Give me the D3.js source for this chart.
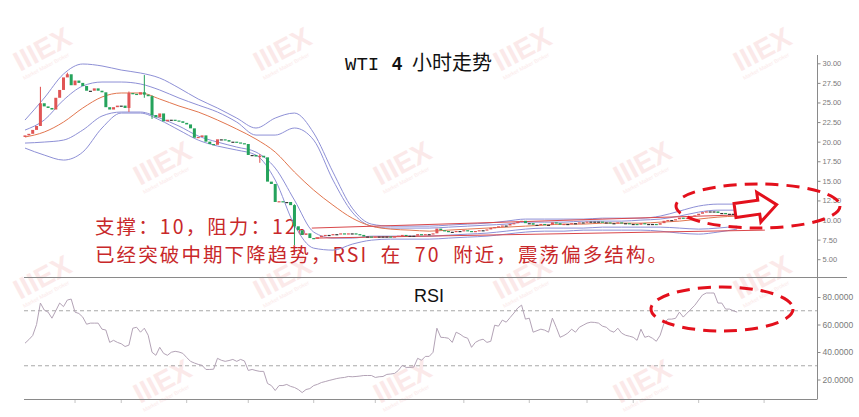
<!DOCTYPE html>
<html><head><meta charset="utf-8">
<script src="https://cdn.jsdelivr.net/npm/d3@7"></script>
<style>
html,body{margin:0;padding:0;background:#fff;}
svg{display:block;}
</style></head>
<body><svg id="c" width="859" height="417"></svg>
<script>
// ---------- data ----------
const titleParts = ["WTI", "4", "小时走势"];
const noteLine1 = "支撑：10，阻力：12。";
const noteLine2 = "已经突破中期下降趋势，RSI 在 70 附近，震荡偏多结构。";
const rsiLabel = "RSI";
const watermarkText = "IIIEX";
const watermarkSub = "Market Maker Broker";

const priceTicks = [5, 7.5, 10, 12.5, 15, 17.5, 20, 22.5, 25, 27.5, 30];
const rsiTicks = [20, 40, 60, 80];
const rsiLevels = [30, 70];
const timeTicks = [13, 25, 42, 58, 75, 91, 114, 131, 146, 158, 175, 192];

const firstOpen = 20.6;
const closes = [
20.8,21.0,21.5,22.0,24.9,24.5,24.3,24.1,25.6,26.6,
28.2,28.6,27.2,27.8,27.5,27.1,26.5,26.5,26.8,26.5,
26.3,24.4,24.1,24.4,24.6,24.6,24.3,26.2,26.1,26.0,
26.3,26.0,25.8,23.4,23.1,23.6,22.6,22.8,22.8,22.7,
22.6,22.4,22.2,21.7,20.5,20.6,20.8,20.0,19.7,19.6,
20.3,20.3,20.2,20.0,20.0,19.9,19.8,19.7,18.3,18.3,
18.1,18.2,18.0,14.9,14.6,12.3,12.4,12.3,12.3,11.9,
9.2,8.7,8.1,8.3,7.7,7.6,7.8,8.0,8.1,8.1,
8.2,8.2,8.3,8.2,8.3,8.3,8.2,8.1,7.9,7.9,
7.8,7.9,7.9,7.9,7.9,7.8,7.9,8.0,8.1,8.0,
8.0,8.0,8.2,8.1,8.2,8.2,8.3,8.9,8.7,8.6,
8.5,8.5,8.6,8.6,8.7,8.6,8.5,8.6,8.7,8.7,
8.8,9.0,9.1,9.2,9.3,9.3,9.5,9.6,9.8,9.9,
9.6,9.6,9.4,9.4,9.5,9.4,9.4,9.7,9.6,9.4,
9.5,9.5,9.6,9.6,9.7,9.7,9.8,9.8,9.8,9.8,
9.7,9.7,9.6,9.6,9.7,9.6,9.6,9.5,9.5,9.4,
9.6,9.5,9.5,9.5,9.4,9.6,9.9,10.0,10.0,10.1,
10.3,10.2,10.3,10.5,10.6,10.8,11.0,11.1,11.1,11.1,
10.9,10.9,10.8,10.8,10.8,10.8];

const wickIdx  = [4, 11, 27, 31, 33, 61, 70];
const wickHigh = [27.0, 28.8, 26.4, 28.5, 25.9, 18.4, 12.0];
const wickLow  = [24.3, 28.3, 23.8, 25.6, 22.9, 17.3, 6.8];

const rsi = [
46.4,49,52,60,75.6,70.5,69,64.6,70,75.6,
73,77.8,78.5,69,68,65.4,60.2,61,61,61,
56.6,56,47,48.5,47,46,44,45,57.3,58,
54.4,57.3,52.2,39.8,37.6,43.4,39,37.6,39.8,40.5,
40,39,36,33.2,32,31,30.3,27.3,27.3,27.5,
35.4,34,33.2,33.8,34.6,33.2,34.6,33.5,26.6,27.3,
26.5,25.9,25.9,17.1,15.6,12,15.6,15.6,16.4,15,
14.2,12.7,10.5,12.7,13.4,15.6,16.5,17.8,18.5,19.3,
20,20.7,21.2,21.5,22.2,22,22.2,22.5,22.9,22.9,
22.9,21.5,22,22.2,23.7,24,24.4,26.6,30.3,28.8,
28.8,29,35.4,34,36.8,36.8,39.8,57.3,50.7,50.5,
50,47,54.4,53,51,50,43.4,47,48.5,49.3,
47,47.8,59.5,58.8,63.2,61.7,65,68.3,72,74.1,
63.9,64.6,54.4,55.5,56.6,55.9,54.4,64.6,58,50.7,
52,53.7,56.6,54.4,58,59.5,61,61.7,61.5,61,
58.8,58,55.5,54.4,57.3,53.7,52.2,51.5,50.7,48.5,
56.6,50.7,51.5,50,47.8,52.2,61,63.9,63.9,64.5,
69,65.4,68.3,71.2,74,77.8,81.5,82.9,82.9,82.9,
75.6,75.6,71.2,71.2,70,69];

const bandIdx = [0,5,10,15,20,25,30,35,40,45,50,55,60,65,70,75,80,85,90,95,100,105,110,115,120,125,130,135,140,145,150,155,160,165,170,175,180,185];
const bandMid = [20.59,21.23,22.50,24.29,25.70,26.21,26.21,25.44,24.55,23.78,22.76,21.61,20.33,18.67,16.12,13.82,11.90,10.24,9.22,8.84,8.71,8.58,8.71,8.84,8.97,9.09,9.22,9.35,9.48,9.48,9.60,9.60,9.60,9.73,9.86,10.12,10.37,10.50];
const bandUp2 = [22.76,25.57,28.63,29.91,29.66,29.14,28.76,28.12,26.85,25.44,24.29,23.01,21.74,23.01,23.65,21.10,16.12,11.52,9.48,9.22,9.22,9.22,9.35,9.48,9.60,9.86,10.12,10.12,10.12,10.12,10.24,10.24,10.24,10.50,11.14,11.78,12.03,12.03];
const bandUp1 = [21.48,22.76,25.31,27.10,27.61,27.61,27.36,26.59,25.57,24.67,23.78,22.50,20.84,20.84,21.74,20.20,15.10,11.01,9.22,8.97,8.97,8.97,9.09,9.22,9.35,9.48,9.73,9.73,9.73,9.86,9.86,9.86,9.99,10.12,10.50,11.01,11.26,11.26];
const bandLo1 = [19.82,19.95,20.20,21.48,23.27,23.78,23.78,23.01,21.99,20.72,19.95,19.31,18.67,16.63,12.54,8.46,7.69,7.69,7.94,7.94,7.94,7.94,8.07,8.20,8.33,8.58,8.84,8.97,8.97,8.97,9.09,9.09,9.09,9.09,8.97,8.84,8.97,9.22];
const bandLo2 = [19.18,18.29,17.65,18.67,21.74,23.65,23.65,22.76,21.48,20.20,19.44,18.93,18.29,15.10,9.35,6.41,6.16,6.92,7.43,7.56,7.56,7.56,7.69,7.82,7.94,8.20,8.46,8.58,8.58,8.71,8.71,8.71,8.71,8.58,8.33,8.20,8.46,8.84];

// trend lines: [startIndex, startPrice, endIndex, endPrice]
const trendUpper = [74.5, 8.97, 192, 10.75];
const trendLower = [75.3, 7.69, 192.2, 8.71];

// ---------- drawing ----------
const svg = d3.select("#c");
const W = 859, H = 417;
svg.append("rect").attr("width", W).attr("height", H).attr("fill", "#fff");

const x = d3.scaleLinear().domain([0, 206]).range([25, 818]);
const y = d3.scaleLinear().domain([5, 30]).range([259.2, 63.3]);
const yr = d3.scaleLinear().domain([20, 80]).range([379.5, 297]);

// faint watermarks, kept inside the canvas
const wm = svg.append("g");
const wmRows = [72, 186, 300, 404];
wmRows.forEach((wy, r) => {
  for (let c = 0; c < 4; c++) {
    const wx = 20 + c * 240 + (r % 2) * 120;
    if (wx > 770) continue;
    const g = wm.append("g").attr("transform", `translate(${wx},${wy}) rotate(-28)`);
    g.append("text").text(watermarkText).attr("font-family", "Liberation Sans, Arial, sans-serif")
      .attr("font-weight", "bold").attr("font-size", 28).attr("fill", "#fbe9e9");
    g.append("text").text(watermarkSub).attr("y", 9).attr("font-family", "Liberation Sans, Arial, sans-serif")
      .attr("font-size", 5.5).attr("fill", "#fbe9e9");
  }
});

// title
const t = svg.append("g").attr("fill", "#111");
t.append("text").attr("x", 345).attr("y", 70).text(titleParts[0])
  .attr("font-family", "Liberation Mono, DejaVu Sans Mono, monospace").attr("font-size", 19);
t.append("text").attr("x", 392).attr("y", 70).text(titleParts[1])
  .attr("font-family", "Liberation Sans, Arial, sans-serif").attr("font-weight", "bold").attr("font-size", 18);
t.append("text").attr("x", 412).attr("y", 70).text(titleParts[2])
  .attr("font-family", "Noto Sans CJK SC, sans-serif").attr("font-size", 20);

// annotation text: one text block with two lines (drawn under the chart lines)
const note = svg.append("text")
  .attr("font-family", "Noto Sans CJK SC, sans-serif").attr("font-size", 19.5).attr("fill", "#c8282a")
  .attr("letter-spacing", 2.1).attr("word-spacing", 6);
note.append("tspan").attr("x", 95).attr("y", 233.5).text(noteLine1);
note.append("tspan").attr("x", 95).attr("y", 262).text(noteLine2);

// panel frame lines
const axisColor = "#8a8a8a";
svg.append("line").attr("x1", 24).attr("x2", 847).attr("y1", 277.5).attr("y2", 277.5).attr("stroke", axisColor).attr("stroke-width", 1);
svg.append("line").attr("x1", 817.5).attr("x2", 817.5).attr("y1", 55).attr("y2", 399).attr("stroke", axisColor).attr("stroke-width", 1);
svg.append("line").attr("x1", 24).attr("x2", 817.5).attr("y1", 399.5).attr("y2", 399.5).attr("stroke", axisColor).attr("stroke-width", 1);

// price axis
const pa = svg.append("g").attr("transform", "translate(817.5,0)")
  .call(d3.axisRight(y).tickValues(priceTicks).tickFormat(d3.format(".2f")).tickSize(3).tickSizeOuter(0));
pa.select(".domain").remove();
pa.selectAll("line").attr("stroke", axisColor);
pa.selectAll("text").attr("font-family", "Liberation Sans, Arial, sans-serif").attr("font-size", 7.5).attr("fill", "#7a7a7a").attr("x", 5);

// rsi axis
const ra = svg.append("g").attr("transform", "translate(817.5,0)")
  .call(d3.axisRight(yr).tickValues(rsiTicks).tickFormat(d3.format(".4f")).tickSize(3).tickSizeOuter(0));
ra.select(".domain").remove();
ra.selectAll("line").attr("stroke", axisColor);
ra.selectAll("text").attr("font-family", "Liberation Sans, Arial, sans-serif").attr("font-size", 8.5).attr("fill", "#7a7a7a").attr("x", 5);

// time ticks
svg.append("g").selectAll("line").data(timeTicks).join("line")
  .attr("x1", d => x(d)).attr("x2", d => x(d)).attr("y1", 400).attr("y2", 403)
  .attr("stroke", "#c4c4c4");

// rsi levels
svg.append("g").selectAll("line").data(rsiLevels).join("line")
  .attr("x1", 24).attr("x2", 817).attr("y1", d => yr(d)).attr("y2", d => yr(d))
  .attr("stroke", "#a8a8a8").attr("stroke-dasharray", "4,3").attr("stroke-width", 1);

// rsi label
svg.append("text").attr("x", 414).attr("y", 302).text(rsiLabel)
  .attr("font-family", "Liberation Sans, Arial, sans-serif").attr("font-size", 18).attr("fill", "#111");

// rsi line
svg.append("path").datum(rsi)
  .attr("d", d3.line().x((d, i) => x(i)).y(d => yr(d)))
  .attr("fill", "none").attr("stroke", "#b3a3b6").attr("stroke-width", 1);

// bands
const bandLine = arr => d3.line().curve(d3.curveMonotoneX).x((d, k) => x(bandIdx[k])).y(d => y(d))(arr);
const blue = "#8e90d6";
[[bandUp2, blue], [bandUp1, blue], [bandLo1, blue], [bandLo2, blue], [bandMid, "#e2764f"]].forEach(([arr, col]) => {
  svg.append("path").attr("d", bandLine(arr)).attr("fill", "none").attr("stroke", col).attr("stroke-width", 1);
});

// trend lines
[trendUpper, trendLower].forEach(tl => {
  svg.append("line").attr("x1", x(tl[0])).attr("y1", y(tl[1])).attr("x2", x(tl[2])).attr("y2", y(tl[3]))
    .attr("stroke", "#d9474a").attr("stroke-width", 1);
});

// candles
const opens = closes.map((c, i) => i === 0 ? firstOpen : closes[i - 1]);
const cg = svg.append("g");
const wickG = cg.append("g");
wickIdx.forEach((wi, k) => {
  const o = opens[wi], c = closes[wi];
  const col = c > o ? "#df4b4b" : "#23a05a";
  wickG.append("line").attr("x1", x(wi)).attr("x2", x(wi)).attr("y1", y(wickHigh[k])).attr("y2", y(wickLow[k]))
    .attr("stroke", col).attr("stroke-width", 1);
});
cg.append("g").selectAll("rect").data(closes).join("rect")
  .attr("x", (d, i) => x(i) - 1.5)
  .attr("width", 3)
  .attr("y", (d, i) => y(Math.max(d, opens[i])))
  .attr("height", (d, i) => Math.max(1.2, Math.abs(y(d) - y(opens[i]))))
  .attr("fill", (d, i) => Math.abs(d - opens[i]) < 0.05 ? "#333" : (d > opens[i] ? "#e05555" : "#25a35c"));

// annotations: ellipses and arrow
const red = "#e3101c";
svg.append("ellipse").attr("cx", 758).attr("cy", 206).attr("rx", 82).attr("ry", 22)
  .attr("fill", "none").attr("stroke", red).attr("stroke-width", 3).attr("stroke-dasharray", "13,8");
svg.append("ellipse").attr("cx", 722).attr("cy", 309).attr("rx", 71).attr("ry", 22)
  .attr("fill", "none").attr("stroke", red).attr("stroke-width", 3).attr("stroke-dasharray", "13,8");
svg.append("path")
  .attr("d", "M0,-7 L24,-7 L24,-15 L42,0 L24,15 L24,7 L0,7 Z")
  .attr("transform", "translate(735,210.5) rotate(-8)")
  .attr("fill", "#fff").attr("stroke", red).attr("stroke-width", 3).attr("stroke-linejoin", "miter");
</script>
</body></html>
